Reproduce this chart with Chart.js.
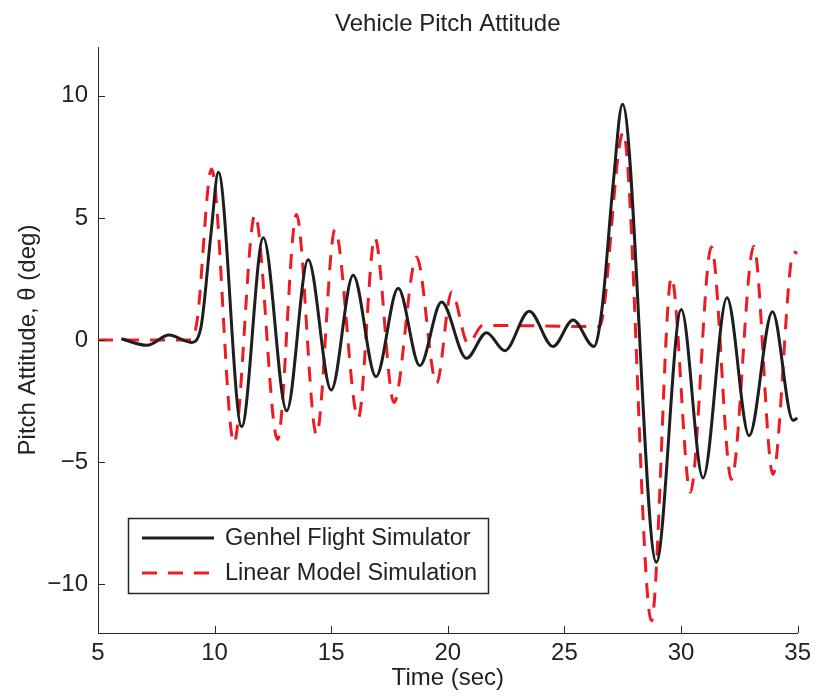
<!DOCTYPE html>
<html>
<head>
<meta charset="utf-8">
<title>Vehicle Pitch Attitude</title>
<script src="https://cdn.jsdelivr.net/npm/chart.js@4.4.1/dist/chart.umd.min.js"></script>
<style>
  html, body { margin: 0; padding: 0; background: #fff; }
  #wrap { width: 817px; height: 696px; position: relative; }
</style>
</head>
<body>
<div id="wrap"><canvas id="myChart"></canvas></div>
<script>
// valores (tempo em s, atitude em graus)
const genhelTime  = [6.0, 7.1, 8.05, 9.0, 9.4, 9.85, 10.16, 11.16, 12.09, 13.09, 14.01, 15.0, 15.94, 16.92, 17.87, 18.8, 19.73, 20.8, 21.66, 22.44, 23.49, 24.51, 25.37, 26.26, 26.6, 27.09, 27.49, 28.94, 30.01, 30.94, 31.97, 32.92, 33.92, 34.8, 35.0];
const genhelPitch = [0.05, -0.22, 0.2, -0.1, 0.45, 4.4, 6.87, -3.55, 4.19, -2.9, 3.29, -2.05, 2.65, -1.5, 2.12, -1.05, 1.56, -0.75, 0.3, -0.44, 1.18, -0.27, 0.82, -0.27, 1.2, 6.4, 9.66, -9.1, 1.25, -5.65, 1.73, -3.92, 1.16, -3.29, -3.2];

const linearTime  = [5.0, 9.0, 9.25, 9.87, 10.83, 11.73, 12.7, 13.51, 14.37, 15.16, 16.16, 16.87, 17.69, 18.66, 19.52, 20.16, 20.87, 21.5, 26.5, 27.52, 28.73, 29.59, 30.4, 31.3, 32.16, 33.12, 33.94, 34.83, 35.0];
const linearPitch = [0, 0, 0.8, 7.0, -4.22, 5.13, -4.08, 5.14, -3.88, 4.52, -3.2, 4.19, -2.56, 3.4, -1.77, 1.97, -0.14, 0.6, 0.55, 8.5, -11.5, 2.56, -6.23, 3.81, -5.71, 3.84, -5.51, 3.6, 3.55];

const xTicks = [5, 10, 15, 20, 25, 30, 35];
const yTicks = [-10, -5, 0, 5, 10];

const seriesNames = ["Genhel Flight Simulator", "Linear Model Simulation"];
const chartTitle = "Vehicle Pitch Attitude";

const fontFamily = "'Liberation Sans', Arial, Helvetica, sans-serif";
const axisColor = "#262626";
const textColor = "#222";

function toPoints(xs, ys) {
    return xs.map((x, i) => ({ x: x, y: ys[i] }));
}

// título centrado na área do gráfico, marcas para dentro (estilo MATLAB) e legenda interna
const matlabAxes = {
    id: "matlabAxes",
    afterDraw(chart) {
        const ctx = chart.ctx;
        const xs = chart.scales.x, ys = chart.scales.y;
        const area = chart.chartArea;
        ctx.save();

        ctx.fillStyle = textColor;
        ctx.font = "24px " + fontFamily;
        ctx.textAlign = "center";
        ctx.textBaseline = "alphabetic";
        ctx.fillText(chartTitle, (area.left + area.right) / 2, 31);

        ctx.strokeStyle = axisColor;
        ctx.lineWidth = 1;
        ctx.beginPath();
        xTicks.forEach(v => {
            const px = Math.round(xs.getPixelForValue(v)) + 0.5;
            ctx.moveTo(px, area.bottom);
            ctx.lineTo(px, area.bottom - 7);
        });
        yTicks.forEach(v => {
            const py = Math.round(ys.getPixelForValue(v)) + 0.5;
            ctx.moveTo(area.left, py);
            ctx.lineTo(area.left + 7, py);
        });
        ctx.stroke();

        // legenda
        const bx = 128.5, by = 518.5, bw = 360, bh = 75;
        ctx.fillStyle = "#fff";
        ctx.fillRect(bx, by, bw, bh);
        ctx.strokeStyle = axisColor;
        ctx.lineWidth = 1.5;
        ctx.strokeRect(bx, by, bw, bh);
        const rows = [538, 573];
        chart.data.datasets.forEach((ds, i) => {
            ctx.beginPath();
            ctx.strokeStyle = ds.borderColor;
            ctx.lineWidth = ds.borderWidth;
            ctx.setLineDash(ds.borderDash || []);
            ctx.moveTo(142, rows[i]);
            ctx.lineTo(214, rows[i]);
            ctx.stroke();
            ctx.setLineDash([]);
            ctx.fillStyle = textColor;
            ctx.font = "23.5px " + fontFamily;
            ctx.textBaseline = "middle";
            ctx.textAlign = "left";
            ctx.fillText(ds.label, 225, rows[i] + 1);
        });
        ctx.restore();
    }
};

const ctx = document.getElementById("myChart").getContext("2d");

const myChart = new Chart(ctx, {
    type: "line",
    data: {
        datasets: [{
            label: seriesNames[0],
            data: toPoints(genhelTime, genhelPitch),
            borderColor: "rgb(30,30,30)",
            borderWidth: 3,
            pointRadius: 0,
            cubicInterpolationMode: "monotone",
            fill: false
        }, {
            label: seriesNames[1],
            data: toPoints(linearTime, linearPitch),
            borderColor: "rgb(237,28,36)",
            borderWidth: 3,
            borderDash: [15, 11],
            pointRadius: 0,
            cubicInterpolationMode: "monotone",
            fill: false
        }]
    },
    options: {
        responsive: true,
        maintainAspectRatio: false,
        animation: false,
        layout: { padding: { left: 0, right: 19, top: 47, bottom: 0 } },
        plugins: {
            legend: { display: false },
            tooltip: { enabled: false },
            title: { display: false }
        },
        scales: {
            x: {
                type: "linear",
                min: 5,
                max: 35,
                afterBuildTicks: s => { s.ticks = xTicks.map(v => ({ value: v })); },
                afterFit: s => { s.height = 63; },
                grid: { display: false, drawTicks: false },
                border: { display: true, color: axisColor, width: 1 },
                ticks: {
                    color: textColor,
                    padding: 6,
                    maxRotation: 0,
                    font: { family: fontFamily, size: 24 }
                },
                title: {
                    display: true,
                    text: "Time (sec)",
                    color: textColor,
                    font: { family: fontFamily, size: 24, lineHeight: 1.1 },
                    padding: { top: 0, bottom: 4 }
                }
            },
            y: {
                type: "linear",
                min: -12,
                max: 12,
                afterBuildTicks: s => { s.ticks = yTicks.map(v => ({ value: v })); },
                afterFit: s => { s.width = 98; },
                grid: { display: false, drawTicks: false },
                border: { display: true, color: axisColor, width: 1 },
                ticks: {
                    color: textColor,
                    padding: 10,
                    font: { family: fontFamily, size: 24 },
                    callback: v => (v < 0 ? "\u2212" + Math.abs(v) : String(v))
                },
                title: {
                    display: true,
                    text: "Pitch Attitude, \u03b8 (deg)",
                    color: textColor,
                    font: { family: fontFamily, size: 24, lineHeight: 1.2 },
                    padding: { top: 14, bottom: 0 }
                }
            }
        }
    },
    plugins: [matlabAxes]
});
</script>
</body>
</html>
